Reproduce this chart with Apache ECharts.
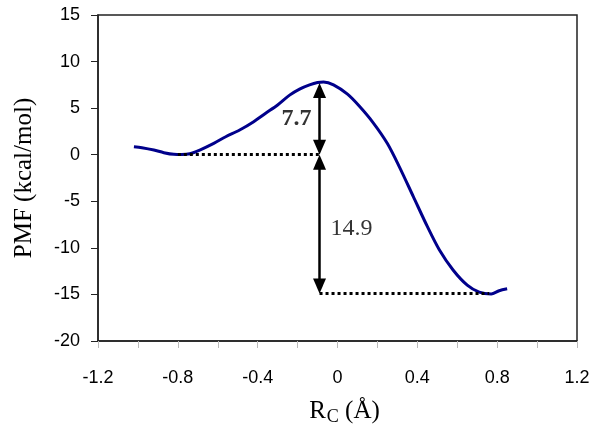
<!DOCTYPE html>
<html>
<head>
<meta charset="utf-8">
<script src="https://cdn.jsdelivr.net/npm/echarts@6/dist/echarts.min.js"></script>
<style>
  html, body { margin: 0; padding: 0; background: #fff; }
  #chart { width: 601px; height: 439px; }
</style>
</head>
<body>
<div id="chart"></div>
<script>
// PMF profile along the reaction coordinate
const rc = [-1.02, -0.98, -0.92, -0.87, -0.82, -0.78, -0.74, -0.69, -0.62, -0.56, -0.49, -0.42,
  -0.36, -0.30, -0.24, -0.19, -0.14, -0.10, -0.07, -0.02, 0.05, 0.11, 0.18, 0.25, 0.31,
  0.38, 0.45, 0.51, 0.58, 0.65, 0.71, 0.77, 0.81, 0.85]
const pmf = [0.86, 0.75, 0.5, 0.22, 0.04, 0.02, 0.1, 0.5, 1.22, 1.93, 2.65, 3.54,
  4.45, 5.34, 6.4, 7.05, 7.5, 7.75, 7.8, 7.5, 6.5, 5.2, 3.4, 1.2, -1.3,
  -4.5, -7.7, -10.2, -12.4, -14.0, -14.75, -14.95, -14.6, -14.4]

// annotation: barrier position, barrier height and reaction energy
const barrierX = -0.09
const reactantX = -0.80
const productX = 0.76
const barrier = 7.7
const drop = 14.9

const xTicks = { min: -1.2, max: 1.2, step: 0.2 }
const yTicks = { min: -20, max: 15, step: 5 }

const grid = { left: 98, right: 24, top: 15, bottom: 98 }
const headLen = 15
// arrow heads are centred on their end point, so pull the ends in by half a head
const headPad = (headLen / 2) / ((439 - grid.top - grid.bottom) / (yTicks.max - yTicks.min))

const chart = echarts.init(document.getElementById('chart'))

const sans = 'Liberation Sans'
const serif = 'Liberation Serif'

chart.setOption({
  animation: false,
  grid: Object.assign({ show: true, borderColor: '#222', borderWidth: 1.5 }, grid),
  xAxis: {
    type: 'value',
    min: xTicks.min,
    max: xTicks.max,
    interval: xTicks.step,
    name: '{r|R}{s|C}{r| (Å)}',
    nameLocation: 'middle',
    nameGap: 58,
    nameTextStyle: {
      padding: [0, 0, 0, 14],
      rich: {
        r: { fontFamily: serif, fontSize: 25, color: '#000', verticalAlign: 'top', padding: [0, 0, 4, 0] },
        s: { fontFamily: serif, fontSize: 18, color: '#000', verticalAlign: 'top', padding: [9, 0, 0, 1] }
      }
    },
    splitLine: { show: false },
    axisLine: { onZero: false, lineStyle: { color: '#222', width: 1.5 } },
    axisTick: { inside: false, length: 7, lineStyle: { color: '#bbb' } },
    axisLabel: {
      fontFamily: sans,
      fontSize: 18,
      color: '#000',
      margin: 28,
      formatter: v => {
        const k = Math.round(v / xTicks.step)
        if (k % 2 !== 0) return ''
        return String(Math.round(v * 10) / 10)
      }
    }
  },
  yAxis: {
    type: 'value',
    min: yTicks.min,
    max: yTicks.max,
    interval: yTicks.step,
    name: 'PMF (kcal/mol)',
    nameLocation: 'middle',
    nameGap: 61,
    nameTextStyle: { fontFamily: serif, fontSize: 25, color: '#000' },
    splitLine: { show: false },
    axisLine: { onZero: false, lineStyle: { color: '#222', width: 1.5 } },
    axisTick: { inside: false, length: 7, lineStyle: { color: '#222' } },
    axisLabel: { fontFamily: sans, fontSize: 18, color: '#000', margin: 18 }
  },
  series: [
    {
      type: 'line',
      data: rc.map((x, i) => [x, pmf[i]]),
      showSymbol: false,
      smooth: 0.3,
      lineStyle: { color: '#00008b', width: 3 },
      z: 3
    },
    {
      // dotted reference levels
      type: 'line',
      data: [],
      markLine: {
        silent: true,
        symbol: ['none', 'none'],
        label: { show: false },
        lineStyle: { color: '#000', width: 3, type: [3, 3] },
        data: [
          [{ coord: [reactantX, 0] }, { coord: [barrierX, 0] }],
          [{ coord: [barrierX, -drop] }, { coord: [productX, -drop] }]
        ]
      }
    },
    {
      // double-headed arrows
      type: 'line',
      data: [],
      markLine: {
        silent: true,
        symbol: ['triangle', 'triangle'],
        symbolSize: [13, headLen],
        label: { show: false },
        lineStyle: { color: '#000', width: 2.5, type: 'solid' },
        data: [
          [{ coord: [barrierX, headPad] }, { coord: [barrierX, barrier - headPad] }],
          [{ coord: [barrierX, -drop + headPad] }, { coord: [barrierX, -headPad] }]
        ]
      }
    },
    {
      type: 'scatter',
      symbolSize: 0,
      silent: true,
      data: [
        { value: [barrierX, barrier / 2], label: { position: 'left', distance: 8, fontWeight: 'bold', formatter: String(barrier) } },
        { value: [barrierX, -drop / 2], label: { position: 'right', distance: 11, offset: [0, 5], formatter: String(drop) } }
      ],
      label: { show: true, fontFamily: serif, fontSize: 24, color: '#000' }
    }
  ]
})
</script>
</body>
</html>
